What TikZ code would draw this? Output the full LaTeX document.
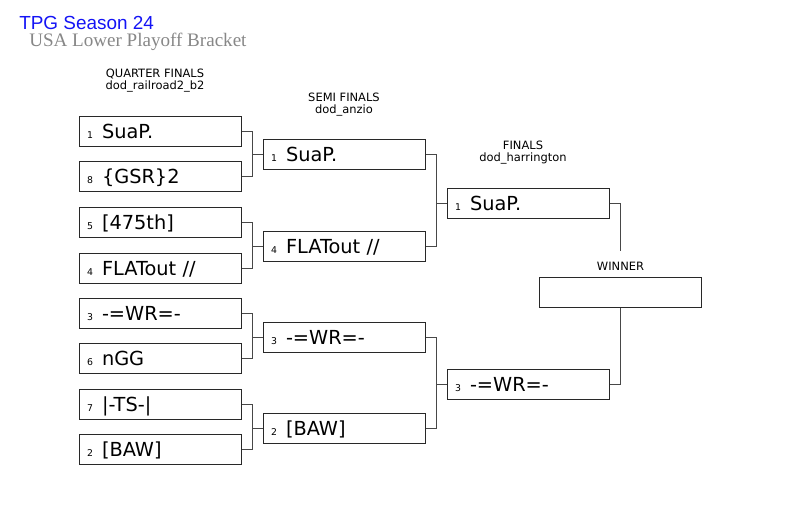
\documentclass[tikz,border=0pt]{standalone}
\usepackage{fontspec}
\setmainfont{DejaVu Sans}
\newfontfamily\TitleFont{Liberation Sans}
\newfontfamily\SubFont{Liberation Serif}
\usepackage{xcolor}
\definecolor{ColLine}{RGB}{40,40,40}
\definecolor{ColTitle}{RGB}{20,20,245}
\definecolor{ColSub}{RGB}{135,135,135}
\usepackage{tikz}
\tikzstyle{Team}=[draw=ColLine,line width=0.75pt,rectangle,inner xsep=6pt,
    inner ysep=0pt,text width=109.5pt,align=left,text height=16.5pt,
    text depth=6pt,font=\fontsize{14.5}{14.5}\selectfont]
\tikzstyle{Link}=[ColLine!85,draw,line width=0.75pt]
\tikzstyle{Round}=[inner sep=0pt,anchor=base,align=center,
    font=\fontsize{8.6}{9}\selectfont]
\newcommand{\Seed}[1]{\makebox[11.25pt][l]{\fontsize{7}{7}\selectfont #1}}

\begin{document}
\begin{tikzpicture}[x=0.75pt,y=-0.75pt]
    \useasboundingbox (0,0) rectangle (800,507);
    \node[anchor=base west,inner sep=0pt,text=ColTitle,
        font=\TitleFont\fontsize{14.2}{14.2}\selectfont](Title)at(19,29)
        {TPG Season 24};
    \node[anchor=base west,inner sep=0pt,text=ColSub,
        font=\SubFont\fontsize{14.3}{14.3}\selectfont](Sub)at(29,46)
        {USA Lower Playoff Bracket};
    \node[Round](HQ)at(155,89){QUARTER FINALS\\dod\_railroad2\_b2};
    \node[Round](HS)at(344,113){SEMI FINALS\\dod\_anzio};
    \node[Round](HF)at(523,161){FINALS\\dod\_harrington};
    \node[Round](HW)at(620.5,270){WINNER};
    \node[Team](Q1)at(160,131){\Seed{1}SuaP.};
    \node[Team](Q2)at(160,176){\Seed{8}\{GSR\}2};
    \node[Team](Q3)at(160,222){\Seed{5}[475th]};
    \node[Team](Q4)at(160,268){\Seed{4}FLATout //};
    \node[Team](Q5)at(160,313){\Seed{3}-=WR=-};
    \node[Team](Q6)at(160,358){\Seed{6}nGG};
    \node[Team](Q7)at(160,404){\Seed{7}|-TS-|};
    \node[Team](Q8)at(160,449){\Seed{2}[BAW]};
    \node[Team](S1)at(344,154){\Seed{1}SuaP.};
    \node[Team](S2)at(344,246){\Seed{4}FLATout //};
    \node[Team](S3)at(344,337){\Seed{3}-=WR=-};
    \node[Team](S4)at(344,428){\Seed{2}[BAW]};
    \node[Team](F1)at(528,203){\Seed{1}SuaP.};
    \node[Team](F2)at(528,384){\Seed{3}-=WR=-};
    \node[Team](W)at(620.5,292){};
    \coordinate(WTop)at(620.5,251);
    \foreach \a/\b/\c in {Q1/Q2/S1,Q3/Q4/S2,Q5/Q6/S3,Q7/Q8/S4,S1/S2/F1,
        S3/S4/F2}{
        \draw[Link](\a.east)--++(11,0)|-(\c.west);
        \draw[Link](\b.east)--++(11,0)|-(\c.west);
    }
    \draw[Link](F1.east)-|(WTop);
    \draw[Link](F2.east)-|(W.south);
\end{tikzpicture}
\end{document}
